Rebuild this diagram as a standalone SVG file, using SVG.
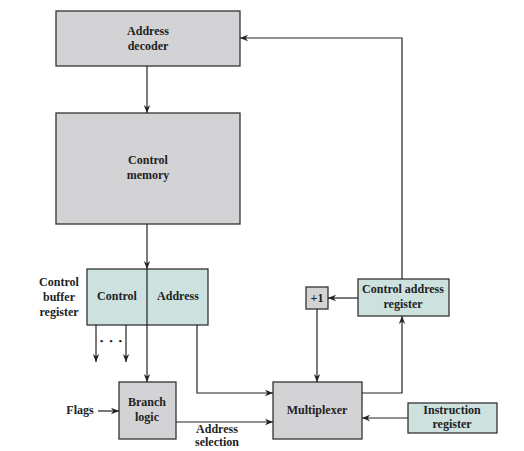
<svg xmlns="http://www.w3.org/2000/svg" width="524" height="451" viewBox="0 0 524 451">
<defs>
<marker id="ah" viewBox="0 0 10 10" refX="10" refY="5" markerWidth="8" markerHeight="8" markerUnits="userSpaceOnUse" orient="auto">
<path d="M0,1 L10,5 L0,9 L3,5 Z" fill="#222"/>
</marker>
</defs>
<style>
.g{fill:#d3d3d5;stroke:#333;stroke-width:1.3}
.t{fill:#cde2df;stroke:#333;stroke-width:1.3}
text{font-family:"Liberation Serif","Times New Roman",serif;font-weight:bold;font-size:12px;fill:#222;text-anchor:middle}
.c path,.c line{fill:none;stroke:#222;stroke-width:1.2}
</style>
<rect width="524" height="451" fill="#fff"/>
<g id="address-decoder"><rect class="g" x="56" y="11" width="184" height="55"/><text x="148" y="35">Address</text><text x="148" y="50">decoder</text></g>
<g id="control-memory"><rect class="g" x="56" y="113" width="184" height="111"/><text x="148" y="164">Control</text><text x="148" y="179">memory</text></g>
<g id="control-buffer-register"><rect class="t" x="87" y="269" width="121" height="56"/><text x="117" y="300">Control</text><text x="178" y="300">Address</text><text x="59" y="286">Control</text><text x="59" y="301">buffer</text><text x="59" y="316">register</text></g>
<g id="branch-logic"><rect class="g" x="119" y="382" width="57" height="57"/><text x="147" y="406">Branch</text><text x="147" y="421">logic</text></g>
<g id="multiplexer"><rect class="g" x="273" y="382" width="89" height="57"/><text x="317" y="414">Multiplexer</text></g>
<g id="plus-one"><rect class="g" x="306" y="287" width="22" height="22"/><text x="317" y="302">+1</text></g>
<g id="control-address-register"><rect class="t" x="358" y="279" width="91" height="37"/><text x="403" y="293">Control address</text><text x="403" y="308">register</text></g>
<g id="instruction-register"><rect class="t" x="408" y="403" width="89" height="30"/><text x="452" y="414">Instruction</text><text x="452" y="428">register</text></g>
<g id="labels"><text x="80" y="414">Flags</text><text x="217" y="433">Address</text><text x="217" y="446">selection</text><text x="112" y="344" style="font-size:9px;letter-spacing:2px">• • •</text></g>
<g class="c" id="connectors">
<line x1="147" y1="66" x2="147" y2="113" marker-end="url(#ah)"/>
<line x1="147" y1="224" x2="147" y2="269" marker-end="url(#ah)"/>
<line x1="147" y1="269" x2="147" y2="382" marker-end="url(#ah)"/>
<line x1="96" y1="325" x2="96" y2="362" marker-end="url(#ah)"/>
<line x1="126" y1="325" x2="126" y2="362" marker-end="url(#ah)"/>
<line x1="98" y1="411" x2="119" y2="411" marker-end="url(#ah)"/>
<path d="M197,325 V393 H273" marker-end="url(#ah)"/>
<line x1="176" y1="422" x2="273" y2="422" marker-end="url(#ah)"/>
<line x1="358" y1="298" x2="328" y2="298" marker-end="url(#ah)"/>
<line x1="317" y1="309" x2="317" y2="382" marker-end="url(#ah)"/>
<path d="M362,393 H402 V316" marker-end="url(#ah)"/>
<path d="M402,279 V38 H240" marker-end="url(#ah)"/>
<line x1="408" y1="418" x2="362" y2="418" marker-end="url(#ah)"/>
</g>
</svg>
